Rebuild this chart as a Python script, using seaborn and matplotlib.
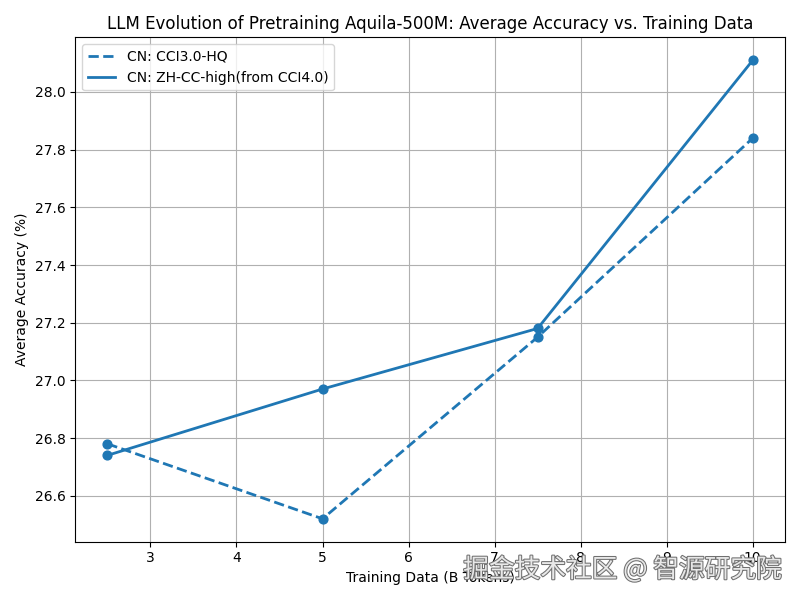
import matplotlib
matplotlib.use('Agg')
import matplotlib.pyplot as plt
import matplotlib.patheffects as pe
import pandas as pd
import seaborn as sns

tokens = [2.5, 5, 7.5, 10]
cci3_hq = [26.78, 26.52, 27.15, 27.84]
zh_cc_high = [26.74, 26.97, 27.18, 28.11]
labels = ['CN: CCI3.0-HQ', 'CN: ZH-CC-high(from CCI4.0)']

df = pd.concat([
    pd.DataFrame({'tokens': tokens, 'acc': cci3_hq, 'dataset': labels[0]}),
    pd.DataFrame({'tokens': tokens, 'acc': zh_cc_high, 'dataset': labels[1]}),
])

plt.rcParams['font.family'] = ['DejaVu Sans', 'Noto Sans CJK SC']
fig, ax = plt.subplots(figsize=(8, 6), dpi=100)

blue = '#1f77b4'
sns.lineplot(data=df[df.dataset == labels[0]], x='tokens', y='acc', color=blue,
             linestyle='--', linewidth=2, label=labels[0], ax=ax)
sns.lineplot(data=df[df.dataset == labels[1]], x='tokens', y='acc', color=blue,
             linestyle='-', linewidth=2, label=labels[1], ax=ax)
ax.scatter(df.tokens, df.acc, color=blue, s=40, zorder=3)

ax.set_title('LLM Evolution of Pretraining Aquila-500M: Average Accuracy vs. Training Data')
ax.set_xlabel('Training Data (B Tokens)')
ax.set_ylabel('Average Accuracy (%)')
ax.grid(True)
ax.legend(loc='upper left')

fig.tight_layout()
# watermark
fig.text(0.978, 0.028, '掘金技术社区 @ 智源研究院', ha='right', va='bottom', fontsize=18.5,
         color='#e8e8e8', family=['Noto Sans CJK SC', 'DejaVu Sans'],
         path_effects=[pe.withStroke(linewidth=1.5, foreground='#707070')])
fig.savefig('out.png', dpi=100)
